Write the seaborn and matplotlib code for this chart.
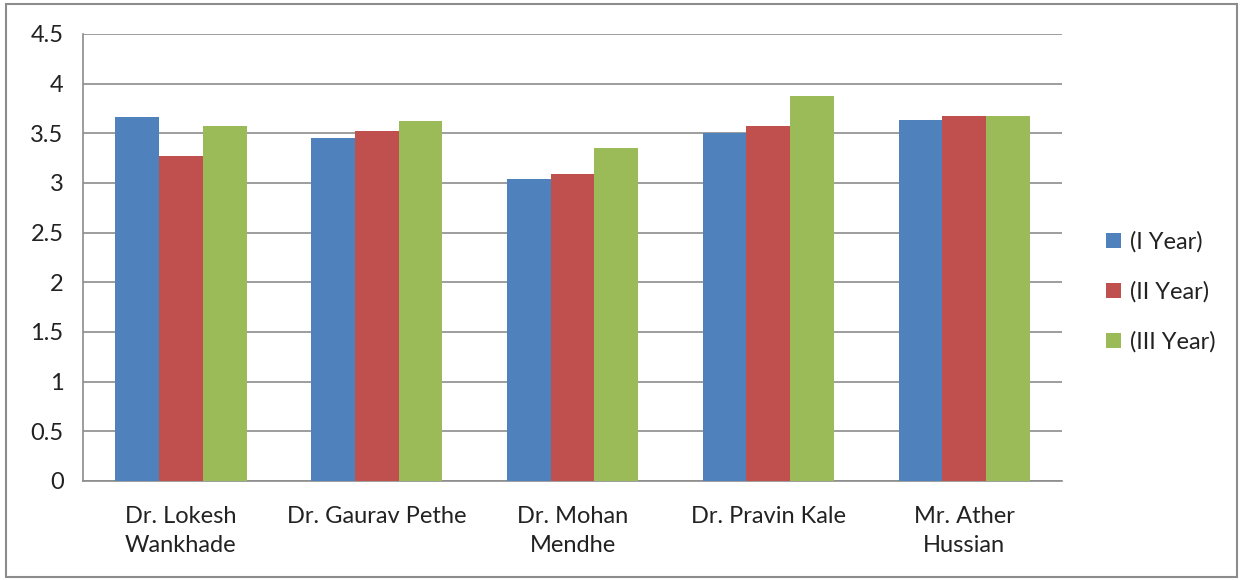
import matplotlib
matplotlib.use("Agg")
import matplotlib.pyplot as plt
from matplotlib.patches import Rectangle
import pandas as pd
import seaborn as sns

faculty = ["Dr. Lokesh\nWankhade", "Dr. Gaurav Pethe", "Dr. Mohan\nMendhe",
           "Dr. Pravin Kale", "Mr. Ather\nHussian"]
years = ["(I Year)", "(II Year)", "(III Year)"]
year1 = [3.66, 3.45, 3.04, 3.50, 3.63]
year2 = [3.27, 3.52, 3.09, 3.57, 3.67]
year3 = [3.57, 3.62, 3.35, 3.88, 3.67]
colors = ["#4F81BD", "#C0504D", "#9BBB59"]

rows = []
for name, a, b, c in zip(faculty, year1, year2, year3):
    for yr, v in zip(years, (a, b, c)):
        rows.append({"Faculty": name, "Year": yr, "Score": v})
df = pd.DataFrame(rows)

sns.set_theme(style="white")
plt.rcParams["font.family"] = ["Lato", "DejaVu Sans"]

fig = plt.figure(figsize=(12.43, 5.8), dpi=100)
ax = fig.add_axes([0.0668, 0.1707, 0.7876, 0.7707])

sns.barplot(data=df, x="Faculty", y="Score", hue="Year", order=faculty,
            hue_order=years, palette=colors, width=0.67, saturation=1,
            edgecolor="none", ax=ax, zorder=3)

grid_c = "#8C8C8C"
ax.set_ylim(0, 4.5)
ax.set_xlim(-0.5, len(faculty) - 0.5)
ax.set_yticks([i * 0.5 for i in range(10)])
ax.set_yticklabels(["0", "0.5", "1", "1.5", "2", "2.5", "3", "3.5", "4", "4.5"])
ax.yaxis.grid(True, color=grid_c, linewidth=1.2, zorder=0)
ax.set_axisbelow(True)

ax.set_xticks(range(len(faculty)))
ax.set_xticklabels(faculty, linespacing=1.5)
ax.set_xticks([i - 0.5 for i in range(len(faculty) + 1)], minor=True)
ax.tick_params(axis="x", which="major", length=0, pad=18, labelsize=17, colors="#222222")
ax.tick_params(axis="x", which="minor", length=8, width=1.2, color=grid_c, direction="out")
ax.tick_params(axis="y", length=9, width=1.2, color=grid_c, direction="out",
               labelsize=17, pad=5, colors="#222222")

for side in ("top", "right"):
    ax.spines[side].set_visible(False)
for side in ("left", "bottom"):
    ax.spines[side].set_color(grid_c)
    ax.spines[side].set_linewidth(1.2)

ax.set_xlabel("")
ax.set_ylabel("")

handles, labels = ax.get_legend_handles_labels()
ax.get_legend().remove()
fig.legend(handles, labels, loc="center left", bbox_to_anchor=(0.873, 0.497),
           frameon=False, fontsize=17, handlelength=0.6, handleheight=0.6,
           handletextpad=0.4, labelspacing=1.2, labelcolor="#222222")

fig.patches.append(Rectangle((0.005, 0.006), 0.99, 0.987, transform=fig.transFigure,
                             fill=False, edgecolor="#8C8C8C", linewidth=1.5))

fig.savefig("out.png", dpi=100, facecolor="white")
